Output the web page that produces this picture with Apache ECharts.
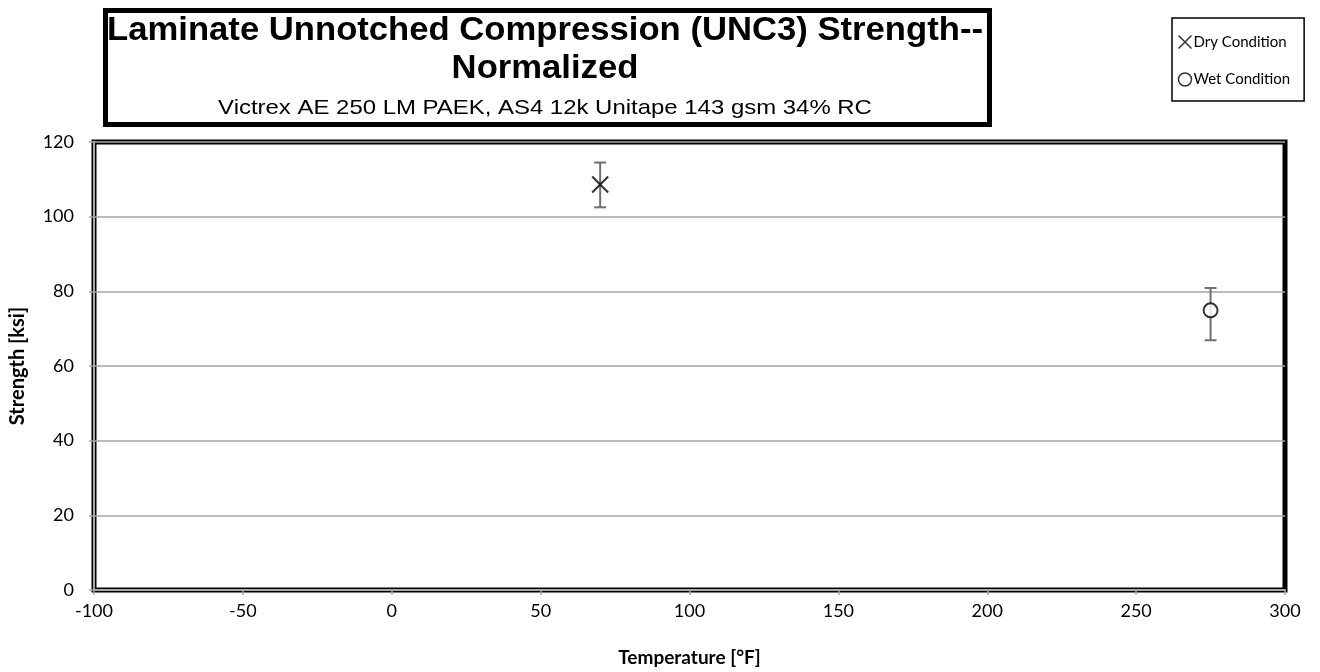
<!DOCTYPE html>
<html>
<head>
<meta charset="utf-8">
<script src="https://cdn.jsdelivr.net/npm/echarts@6/dist/echarts.min.js"></script>
<style>
  html, body { margin: 0; padding: 0; background: #fff; }
  #chart { width: 1320px; height: 672px; }
</style>
</head>
<body>
<div id="chart"></div>
<script>
// Test data: normalized UNC3 strength (ksi) versus test temperature (°F)
const dryTemperature = [70];
const dryStrength = [108.6];
const dryLow = [102.5];
const dryHigh = [114.5];

const wetTemperature = [275];
const wetStrength = [74.9];
const wetLow = [66.9];
const wetHigh = [80.9];

const xAxisRange = { min: -100, max: 300, interval: 50 };
const yAxisRange = { min: 0, max: 120, interval: 20 };

const titleLines = ['Laminate Unnotched Compression (UNC3) Strength--', 'Normalized'];
const subtitleText = 'Victrex AE 250 LM PAEK, AS4 12k Unitape 143 gsm 34% RC';
const seriesNames = ['Dry Condition', 'Wet Condition'];

const labelFont = 'Lato, "Open Sans", sans-serif';
const titleFont = '"Liberation Sans", Arial, sans-serif';

function pairs(xs, ys) { return xs.map((x, i) => [x, ys[i]]); }
function ranges(xs, lo, hi) { return xs.map((x, i) => [x, lo[i], hi[i]]); }

// Vertical error bar with caps
function renderErrorBar(params, api) {
  const x = api.value(0);
  const top = api.coord([x, api.value(2)]);
  const bottom = api.coord([x, api.value(1)]);
  const half = 6;
  const style = { stroke: '#707070', lineWidth: 2 };
  return {
    type: 'group',
    children: [
      { type: 'line', shape: { x1: top[0], y1: top[1], x2: bottom[0], y2: bottom[1] }, style },
      { type: 'line', shape: { x1: top[0] - half, y1: top[1], x2: top[0] + half, y2: top[1] }, style },
      { type: 'line', shape: { x1: bottom[0] - half, y1: bottom[1], x2: bottom[0] + half, y2: bottom[1] }, style }
    ]
  };
}

const crossPath = 'path://M0,0L10,10M10,0L0,10';

// Horizontally stretched centred text line
function stretchedText(text, cx, cy, font, sx) {
  return {
    type: 'group', x: cx, y: cy, scaleX: sx, z: 11,
    children: [{
      type: 'text', x: 0, y: 0, z: 11,
      style: { text, fill: '#000', align: 'center', verticalAlign: 'middle', font }
    }]
  };
}

const chart = echarts.init(document.getElementById('chart'), null, { renderer: 'canvas' });

chart.setOption({
  animation: false,
  backgroundColor: '#fff',
  grid: {
    left: 94, right: 35, top: 142, bottom: 80,
    show: true, borderColor: '#000', borderWidth: 5, backgroundColor: 'transparent'
  },
  xAxis: {
    type: 'value',
    min: xAxisRange.min, max: xAxisRange.max, interval: xAxisRange.interval,
    name: 'Temperature [°F]', nameLocation: 'middle', nameGap: 58,
    nameTextStyle: { fontFamily: labelFont, fontWeight: 'bold', fontSize: 19, color: '#000' },
    axisLine: { show: true, onZero: false, lineStyle: { color: '#a6a6a6', width: 2 } },
    axisTick: { show: true, length: 5, lineStyle: { color: '#a6a6a6', width: 1.5 } },
    axisLabel: { fontFamily: labelFont, fontSize: 18, color: '#000', margin: 12 },
    splitLine: { show: false }
  },
  yAxis: {
    type: 'value',
    min: yAxisRange.min, max: yAxisRange.max, interval: yAxisRange.interval,
    name: 'Strength [ksi]', nameLocation: 'middle', nameGap: 66, nameRotate: 90,
    nameTextStyle: { fontFamily: labelFont, fontWeight: 'bold', fontSize: 20, color: '#000' },
    axisLine: { show: true, onZero: false, lineStyle: { color: '#a6a6a6', width: 2 } },
    axisTick: { show: true, length: 5, lineStyle: { color: '#a6a6a6', width: 1.5 } },
    axisLabel: { fontFamily: labelFont, fontSize: 18, color: '#000', margin: 20 },
    splitLine: { show: true, lineStyle: { color: '#a6a6a6', width: 1.5 } }
  },
  legend: {
    show: true,
    orient: 'vertical',
    left: 1172, top: 18,
    padding: [15, 14, 14, 4],
    itemGap: 21,
    itemWidth: 13, itemHeight: 13,
    borderColor: '#000', borderWidth: 1.5,
    backgroundColor: '#fff',
    textStyle: { fontFamily: labelFont, fontSize: 15, color: '#000', padding: [0, 0, 0, -3] },
    data: [
      { name: seriesNames[0], icon: crossPath, itemStyle: { color: 'none', borderColor: '#000', borderWidth: 1.5 } },
      { name: seriesNames[1], icon: 'circle', itemStyle: { color: '#fff', borderColor: '#000', borderWidth: 1.5 } }
    ]
  },
  series: [
    {
      type: 'custom', name: 'dryError', renderItem: renderErrorBar,
      data: ranges(dryTemperature, dryLow, dryHigh), z: 2, silent: true
    },
    {
      type: 'custom', name: 'wetError', renderItem: renderErrorBar,
      data: ranges(wetTemperature, wetLow, wetHigh), z: 2, silent: true
    },
    {
      type: 'scatter', name: seriesNames[0],
      data: pairs(dryTemperature, dryStrength),
      symbol: crossPath, symbolSize: 16,
      itemStyle: { color: 'none', borderColor: '#000', borderWidth: 2 },
      z: 5
    },
    {
      type: 'scatter', name: seriesNames[1],
      data: pairs(wetTemperature, wetStrength),
      symbol: 'circle', symbolSize: 14,
      itemStyle: { color: '#fff', borderColor: '#000', borderWidth: 2 },
      z: 5
    }
  ],
  graphic: [
    {
      type: 'rect', left: 103, top: 8, z: 10,
      shape: { width: 884, height: 114 },
      style: { fill: '#fff', stroke: '#000', lineWidth: 5 }
    },
    stretchedText(titleLines[0], 545, 31, 'bold 33px ' + titleFont, 1.05),
    stretchedText(titleLines[1], 545, 69, 'bold 33px ' + titleFont, 1.05),
    stretchedText(subtitleText, 545, 108, '21px ' + titleFont, 1.14)
  ]
});
</script>
</body>
</html>
